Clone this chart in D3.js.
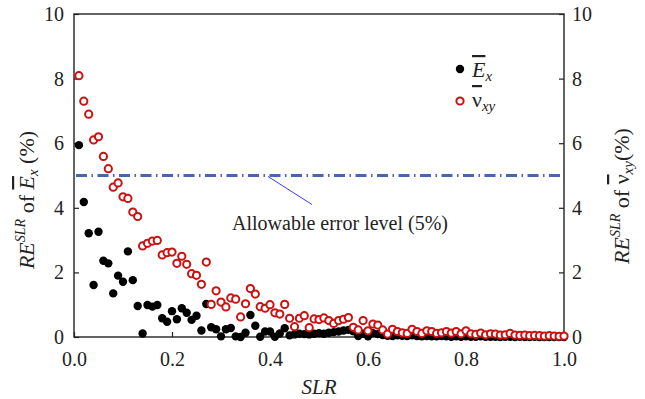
<!DOCTYPE html>
<html>
<head>
<meta charset="utf-8">
<script src="https://cdn.jsdelivr.net/npm/d3@7"></script>
<style>
  body { margin: 0; background: #fff; }
  svg text { font-family: 'Liberation Serif', 'DejaVu Serif', serif; }
  .axis text { font-size: 20px; fill: #222; }
  .axis line { stroke: #222; stroke-width: 1.2; }
</style>
</head>
<body>
<svg id="chart" width="645" height="399"></svg>
<script>
const serif = "'Liberation Serif', 'DejaVu Serif', serif";

// SLR values 0.01 .. 1.00
const slr = d3.range(1, 101).map(i => i / 100);

// relative error of E_x (%)
const reEx = [
  5.94, 4.18, 3.21, 1.61, 3.26, 2.36, 2.28, 1.35, 1.90, 1.71,
  2.65, 1.76, 0.96, 0.11, 0.99, 0.94, 0.99, 0.58, 0.47, 0.80,
  0.55, 0.89, 0.75, 0.53, 0.66, 0.20, 1.02, 0.30, 0.24, 0.02,
  0.24, 0.28, 0.02, 0.00, 0.13, 0.68, 0.35, 0.01, 0.17, 0.17,
  0.01, 0.11, 0.27, 0.05, 0.08, 0.10, 0.09, 0.08, 0.10, 0.12,
  0.10, 0.13, 0.15, 0.17, 0.20, 0.22, 0.18, 0.03, 0.10, 0.02,
  0.12, 0.09, 0.06, 0.04, 0.03, 0.05, 0.04, 0.03, 0.05, 0.03,
  0.02, 0.03, 0.02, 0.02, 0.03, 0.02, 0.01, 0.02, 0.01, 0.02,
  0.01, 0.01, 0.02, 0.01, 0.01, 0.01, 0.00, 0.01, 0.01, 0.00,
  0.01, 0.00, 0.00, 0.01, 0.00, 0.00, 0.00, 0.00, 0.00, 0.00
];

// relative error of nu_xy (%)
const reNu = [
  8.09, 7.30, 6.90, 6.10, 6.20, 5.59, 5.21, 4.64, 4.77, 4.34,
  4.29, 3.87, 3.73, 2.82, 2.90, 2.97, 2.99, 2.54, 2.61, 2.63,
  2.28, 2.50, 2.25, 1.96, 1.91, 1.63, 2.32, 1.01, 1.43, 1.08,
  0.93, 1.21, 1.17, 0.62, 1.03, 1.50, 1.33, 0.94, 0.89, 1.00,
  0.75, 0.71, 1.01, 0.58, 0.32, 0.58, 0.66, 0.29, 0.56, 0.54,
  0.59, 0.51, 0.42, 0.51, 0.55, 0.60, 0.30, 0.22, 0.51, 0.19,
  0.40, 0.37, 0.22, 0.09, 0.24, 0.17, 0.13, 0.11, 0.24, 0.17,
  0.11, 0.19, 0.17, 0.11, 0.13, 0.17, 0.12, 0.17, 0.10, 0.19,
  0.10, 0.08, 0.12, 0.07, 0.10, 0.09, 0.06, 0.07, 0.11, 0.06,
  0.05, 0.06, 0.04, 0.05, 0.04, 0.03, 0.04, 0.03, 0.02, 0.03
];

const xTicks = [0, 0.2, 0.4, 0.6, 0.8, 1.0];
const yTicks = [0, 2, 4, 6, 8, 10];
const allowable = 5;

const svg = d3.select('#chart');
const x = d3.scaleLinear().domain([0, 1]).range([74, 564]);
const y = d3.scaleLinear().domain([0, 10]).range([337, 14]);

// axes
svg.append('g')
  .attr('class', 'axis')
  .attr('transform', `translate(0,${y(0)})`)
  .call(d3.axisBottom(x).tickValues(xTicks).tickFormat(d3.format('.1f'))
    .tickSizeInner(-5).tickSizeOuter(0).tickPadding(15))
  .call(g => g.select('.domain').remove());

svg.append('g')
  .attr('class', 'axis')
  .attr('transform', `translate(${x(0)},0)`)
  .call(d3.axisLeft(y).tickValues(yTicks).tickSizeInner(-5).tickSizeOuter(0).tickPadding(10))
  .call(g => g.select('.domain').remove());

svg.append('g')
  .attr('class', 'axis')
  .attr('transform', `translate(${x(1)},0)`)
  .call(d3.axisRight(y).tickValues(yTicks).tickSizeInner(-5).tickSizeOuter(0).tickPadding(8))
  .call(g => g.select('.domain').remove());

svg.selectAll('.axis').attr('font-family', serif);

// frame
svg.append('rect')
  .attr('x', x(0)).attr('y', y(10))
  .attr('width', x(1) - x(0)).attr('height', y(0) - y(10))
  .attr('fill', 'none').attr('stroke', '#222').attr('stroke-width', 1.4);

// allowable error line
svg.append('line')
  .attr('x1', x(0) + 2).attr('x2', x(1))
  .attr('y1', y(allowable)).attr('y2', y(allowable))
  .attr('stroke', '#4a65b0').attr('stroke-width', 3.2)
  .attr('stroke-dasharray', '11,4.5,1.5,4.5');

svg.append('line')
  .attr('x1', x(0.4) - 2).attr('y1', y(allowable) + 1)
  .attr('x2', x(0.5) - 7).attr('y2', y(allowable) + 29)
  .attr('stroke', '#3a3aff').attr('stroke-width', 1);

svg.append('text')
  .attr('x', 232).attr('y', 230)
  .attr('font-family', serif).attr('font-size', 20).attr('fill', '#222')
  .text('Allowable error level (5%)');

// data points
const dataEx = slr.map((s, i) => ({ s, v: reEx[i] }));
const dataNu = slr.map((s, i) => ({ s, v: reNu[i] }));

svg.append('g').selectAll('circle')
  .data(dataEx).join('circle')
  .attr('cx', d => x(d.s)).attr('cy', d => y(d.v))
  .attr('r', 4.2).attr('fill', '#000');

svg.append('g').selectAll('circle')
  .data(dataNu).join('circle')
  .attr('cx', d => x(d.s)).attr('cy', d => y(d.v))
  .attr('r', 3.6).attr('fill', '#fff')
  .attr('stroke', '#cc1010').attr('stroke-width', 2);

// legend
svg.append('circle').attr('cx', 460).attr('cy', 69).attr('r', 4.2).attr('fill', '#000');
svg.append('circle').attr('cx', 460).attr('cy', 101).attr('r', 3.6)
  .attr('fill', '#fff').attr('stroke', '#cc1010').attr('stroke-width', 2);

const lg1 = svg.append('text').attr('x', 472).attr('y', 77)
  .attr('font-family', serif).attr('font-size', 22).attr('fill', '#222');
lg1.append('tspan').attr('font-style', 'italic').attr('text-decoration', 'overline').text('E');
lg1.append('tspan').attr('font-style', 'italic').attr('font-size', 15).attr('dy', 4).text('x');

const lg2 = svg.append('text').attr('x', 472).attr('y', 107)
  .attr('font-family', serif).attr('font-size', 22).attr('fill', '#222');
lg2.append('tspan').attr('text-decoration', 'overline').text('ν');
lg2.append('tspan').attr('font-style', 'italic').attr('font-size', 15).attr('dy', 4).text('xy');

// axis titles
svg.append('text')
  .attr('x', x(0.5)).attr('y', 394)
  .attr('text-anchor', 'middle').attr('font-family', serif).attr('font-size', 21)
  .attr('font-style', 'italic').attr('fill', '#222')
  .text('SLR');

function yTitle(tx, ty, sym, symItalic, sub, gap) {
  const t = svg.append('text')
    .attr('transform', `translate(${tx},${ty}) rotate(-90)`)
    .attr('text-anchor', 'middle').attr('font-family', serif)
    .attr('font-size', 22).attr('fill', '#222');
  t.append('tspan').attr('font-style', 'italic').text('RE');
  t.append('tspan').attr('font-style', 'italic').attr('font-size', 14).attr('dy', -9).text('SLR');
  t.append('tspan').attr('dy', 9).text(' of ');
  t.append('tspan').attr('font-style', symItalic ? 'italic' : 'normal')
    .attr('text-decoration', 'overline').text(sym);
  t.append('tspan').attr('font-style', 'italic').attr('font-size', 15).attr('dy', 4).text(sub);
  t.append('tspan').attr('dy', -4).text(gap + '(%)');
}
yTitle(34, 200, 'E', true, 'x', ' ');
yTitle(629, 196, 'ν', false, 'xy', '');
</script>
</body>
</html>
